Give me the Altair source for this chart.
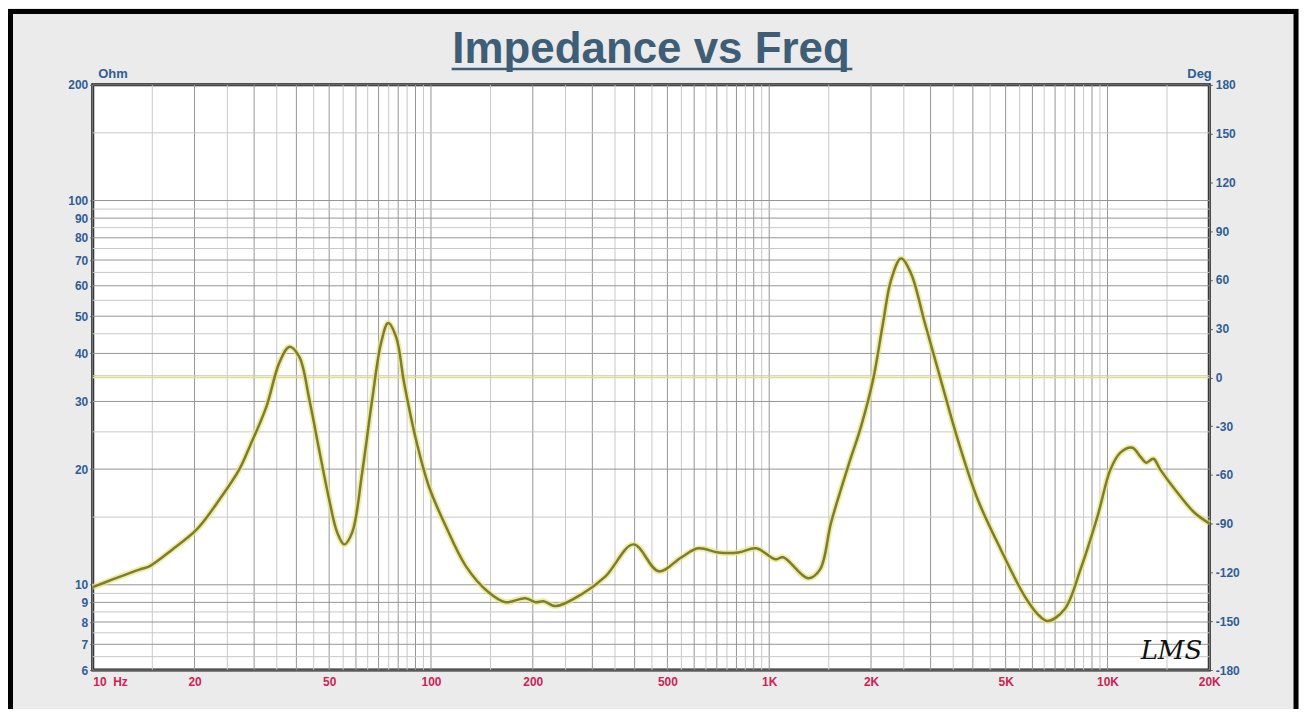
import altair as alt
import pandas as pd

# ---- data ----
freq_hz = [10, 11.5, 13.8, 14.7, 17.2, 20.3, 23.7, 27.1, 29.1, 32.6, 35.6, 38.1,
           40.8, 43.7, 46.7, 50.0, 52.8, 55.4, 58.5, 62.6, 67.0, 71.2, 74.7, 78.9,
           83.3, 90.3, 98.6, 110.7, 126.9, 148, 166, 190, 204, 215, 234, 279,
           328, 397, 471, 550, 617, 707, 810, 916, 1042, 1100, 1303, 1414, 1524,
           1710, 1868, 2027, 2170, 2291, 2452, 2624, 2885, 3217, 3610, 4135, 4836,
           5690, 6217, 6653, 7468, 8325, 9344, 10203, 10922, 11849, 12513, 13032,
           13667, 14330, 16090, 18060, 20000]
impedance_ohm = [9.86, 10.34, 10.97, 11.17, 12.36, 13.93, 16.67, 19.94, 22.88, 29.05,
                 37.8, 41.6, 39.2, 30.3, 22.47, 16.67, 13.69, 12.74, 13.69, 19.59,
                 30.3, 42.6, 48.0, 44.1, 33.5, 23.86, 18.02, 14.18, 11.17, 9.56,
                 9.01, 9.23, 9.01, 9.06, 8.80, 9.45, 10.52, 12.74, 10.84, 11.79,
                 12.44, 12.14, 12.14, 12.44, 11.65, 11.79, 10.40, 10.97, 14.53,
                 20.3, 25.8, 34.1, 48.0, 62.0, 70.7, 64.7, 48.0, 34.1, 23.86, 16.67,
                 12.36, 9.34, 8.39, 8.05, 8.64, 10.97, 15.06, 19.94, 22.07, 22.73,
                 21.55, 20.79, 21.29, 19.94, 17.38, 15.42, 14.44]

freq_ticks = [10, 20, 50, 100, 200, 500, 1000, 2000, 5000, 10000, 20000]
ohm_ticks = [6, 7, 8, 9, 10, 20, 30, 40, 50, 60, 70, 80, 90, 100, 200]
deg_ticks = [180, 150, 120, 90, 60, 30, 0, -30, -60, -90, -120, -150, -180]
zero_phase = [0]

title_text = ["Impedance vs Freq"]
mark_text_lms = ["LMS"]

# grid positions (log paper)
x_major = [m * 10 ** e for e in range(1, 5) for m in range(1, 10) if 10 <= m * 10 ** e <= 20000]
x_minor = [(m + 0.5) * 10 ** e for e in range(1, 5) for m in range(1, 10) if (m + 0.5) * 10 ** e <= 20000]
y_major = [6, 7, 8, 9, 10, 20, 30, 40, 50, 60, 70, 80, 90, 100, 200]
y_minor = [6.5, 7.5, 8.5, 9.5, 15, 25, 35, 45, 55, 65, 75, 85, 95, 150]

W, H = 1120, 587
PAD = {"left": 85, "top": 76, "right": 90, "bottom": 38}

BLUE = "#2f5d96"
RED = "#cc2255"
FONT = "Liberation Sans"
LABEL_SIZE = 12

xscale = alt.Scale(type="log", domain=[10, 20000], nice=False)
yscale = alt.Scale(type="log", domain=[6, 200], nice=False)

x_axis = alt.Axis(values=freq_ticks,
                  labelExpr="datum.value == 10 ? '10\u00a0\u00a0Hz' : (datum.value >= 1000 ? (datum.value / 1000) + 'K' : '' + datum.value)",
                  labelAlign={"condition": {"test": "datum.value == 10", "value": "left"}, "value": "center"},
                  labelColor=RED, labelFont=FONT, labelFontSize=LABEL_SIZE, labelFontWeight="bold",
                  domain=False, grid=False, ticks=False, labelPadding=7, title=None)

curve = pd.DataFrame({"f": freq_hz, "z": impedance_ohm})

vminor = alt.Chart(pd.DataFrame({"f": x_minor})).mark_rule(color="#c8c8c8", strokeWidth=1).encode(
    x=alt.X("f:Q", scale=xscale, axis=x_axis))
vmajor = alt.Chart(pd.DataFrame({"f": x_major})).mark_rule(color="#959595", strokeWidth=1).encode(
    x=alt.X("f:Q", scale=xscale, axis=x_axis))
hminor = alt.Chart(pd.DataFrame({"z": y_minor})).mark_rule(color="#c8c8c8", strokeWidth=1).encode(
    y=alt.Y("z:Q", scale=yscale, axis=None))
hmajor = alt.Chart(pd.DataFrame({"z": y_major})).mark_rule(color="#959595", strokeWidth=1).encode(
    y=alt.Y("z:Q", scale=yscale, axis=None))

phase = alt.Chart(pd.DataFrame({"deg": zero_phase})).mark_rule(color="#e2df78", strokeWidth=1.5).encode(
    y=alt.Y("deg:Q", scale=alt.Scale(domain=[-180, 180], nice=False),
            axis=alt.Axis(orient="right", values=deg_ticks, labelExpr="'' + datum.value",
                          labelColor=BLUE, labelFont=FONT, labelFontSize=LABEL_SIZE, labelFontWeight="bold",
                          domain=False, grid=False, ticks=True, tickSize=3, tickColor="#555",
                          labelPadding=3, title="Deg", titleAngle=0, titleX=2, titleY=-7,
                          titleAlign="right", titleBaseline="alphabetic", titleColor=BLUE,
                          titleFont=FONT, titleFontSize=13, titleFontWeight="bold"))
)

glow = alt.Chart(curve).mark_line(color="#e8e67a", strokeWidth=6, opacity=0.7,
                                  interpolate="catmull-rom").encode(
    x=alt.X("f:Q", scale=xscale, axis=x_axis),
    y=alt.Y("z:Q", scale=yscale, axis=None),
)

core = alt.Chart(curve).mark_line(color="#7e7c33", strokeWidth=2.5, interpolate="catmull-rom").encode(
    x=alt.X("f:Q", scale=xscale, axis=x_axis),
    y=alt.Y("z:Q", scale=yscale,
            axis=alt.Axis(orient="left", values=ohm_ticks, labelExpr="'' + datum.value",
                          labelColor=BLUE, labelFont=FONT, labelFontSize=LABEL_SIZE, labelFontWeight="bold",
                          domain=False, grid=False, ticks=True, tickSize=3, tickColor="#555",
                          labelPadding=2, title="Ohm", titleAngle=0, titleX=5, titleY=-7,
                          titleAlign="left", titleBaseline="alphabetic", titleColor=BLUE,
                          titleFont=FONT, titleFontSize=13, titleFontWeight="bold")),
)

title = alt.Chart(pd.DataFrame({"t": title_text})).mark_text(
    font=FONT, fontSize=44, fontWeight="bold", color="#3e5d77", align="center",
    baseline="alphabetic").encode(text="t:N", x=alt.value(W / 2), y=alt.value(-22))

underline = alt.Chart(pd.DataFrame({"t": title_text})).mark_rule(
    color="#3e5d77", strokeWidth=2.5).encode(x=alt.value(360), x2=alt.value(762), y=alt.value(-16))

lms = alt.Chart(pd.DataFrame({"t": mark_text_lms})).mark_text(
    font="DejaVu Serif", fontSize=26, fontStyle="italic", color="#111", align="center",
    baseline="alphabetic").encode(text="t:N", x=alt.value(1082), y=alt.value(576))

frame = alt.Chart(pd.DataFrame({"t": title_text})).mark_rect(
    filled=False, stroke="black", strokeWidth=5).encode(
    x=alt.value(-PAD["left"] + 2.5), x2=alt.value(W + PAD["right"] - 3),
    y=alt.value(-PAD["top"] + 2.5), y2=alt.value(H + 120))

chart = alt.layer(
    vminor, vmajor, hminor, hmajor, phase, glow, core, title, underline, lms, frame
).resolve_scale(y="independent").properties(
    width=W, height=H, padding=PAD, autosize="none", background="#ebebeb"
).configure_view(fill="white", stroke="#1a1a1a", strokeWidth=3)

chart.save("out.html", embed_options={"renderer": "svg", "actions": False})
